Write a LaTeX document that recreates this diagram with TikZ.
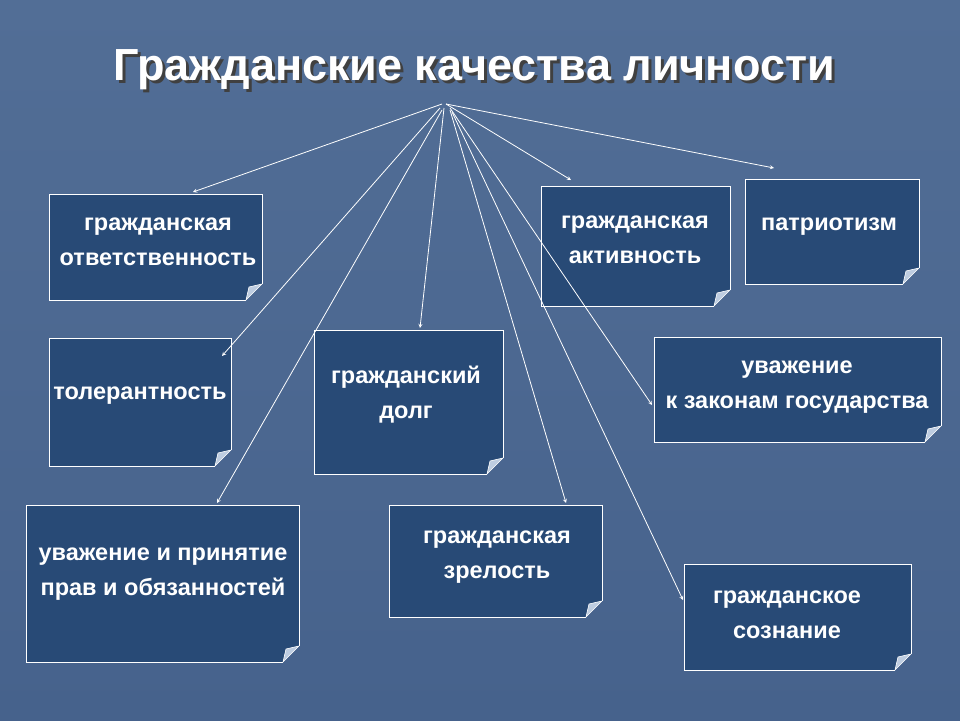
\documentclass[tikz,border=0pt]{standalone}
\usepackage{fontspec}
\setmainfont{Liberation Sans}
\definecolor{bgtop}{RGB}{82,110,150}
\definecolor{bgbot}{RGB}{70,98,140}
\definecolor{boxc}{RGB}{40,74,118}
\definecolor{foldc}{RGB}{190,205,225}
\begin{document}
\begin{tikzpicture}[x=1pt,y=-1pt,
  lbl/.style={font=\bfseries\fontsize{23.5}{35}\selectfont,text=white,align=center},
  conn/.style={white,line width=0.8pt,-stealth}]
\shade[top color=bgtop, bottom color=bgbot] (0,0) rectangle (960,720);
\useasboundingbox (0,0) rectangle (960,720);
\newcommand{\qbox}[5]{%
 \fill[boxc] (#1,#2) -- (#3,#2) -- (#3,#4-16) -- (#3-16,#4) -- (#1,#4) -- cycle;
 \draw[white,line width=0.8pt] (#3-16,#4) -- (#1,#4) -- (#1,#2) -- (#3,#2) -- (#3,#4-16);
 \fill[foldc] (#3,#4-16) -- (#3-16,#4) -- (#3-13,#4-13) -- cycle;
 \draw[white,line width=0.6pt] (#3,#4-16) -- (#3-16,#4) -- (#3-13,#4-13) -- cycle;
 \coordinate (#5) at (#1,#2);}
\node[font=\bfseries\fontsize{45}{50}\selectfont,text=black!75] at (477,73) {Гражданские качества личности};
\node[font=\bfseries\fontsize{45}{50}\selectfont,text=white] (title) at (474,70) {Гражданские качества личности};
\coordinate (src) at (442,104);
\qbox{49}{194}{262}{300}{b1}
\qbox{49}{338}{231}{466}{b2}
\qbox{26}{505}{299}{662}{b3}
\qbox{314}{330}{503}{474}{b4}
\qbox{389}{505}{602}{617}{b5}
\qbox{541}{186}{730}{306}{b6}
\qbox{745}{179}{919}{284}{b7}
\qbox{654}{337}{941}{442}{b8}
\qbox{684}{564}{911}{670}{b9}
\node[lbl] (t1) at (158,242) {гражданская\\ ответственность};
\node[lbl] (t2) at (140,396) {толерантность};
\node[lbl] (t3) at (163,574) {уважение и принятие\\ прав и обязанностей};
\node[lbl] (t4) at (406,395) {гражданский\\ долг};
\node[lbl] (t5) at (497,557) {гражданская\\ зрелость};
\node[lbl] (t6) at (635,240) {гражданская\\ активность};
\node[lbl] (t7) at (829,227) {патриотизм};
\node[lbl] (t8) at (797,387) {уважение\\ к законам государства};
\node[lbl] (t9) at (787,615) {гражданское\\ сознание};
\coordinate (e1) at (193,192); \coordinate (e2) at (222,356); \coordinate (e3) at (217,503);
\coordinate (e4) at (420,328); \coordinate (e5) at (566,503); \coordinate (e6) at (571,180);
\coordinate (e7) at (774,168); \coordinate (e8) at (652,405); \coordinate (e9) at (683,600);
\draw[conn] (src) -- (e1);
\draw[conn] ([shift={(-2,4)}]src) -- (e2);
\draw[conn] ([shift={(0,6)}]src) -- (e3);
\draw[conn] ([shift={(2,4)}]src) -- (e4);
\draw[conn] ([shift={(8,6)}]src) -- (e5);
\draw[conn] ([shift={(4,0)}]src) -- (e6);
\draw[conn] ([shift={(4,0)}]src) -- (e7);
\draw[conn] ([shift={(8,4)}]src) -- (e8);
\draw[conn] ([shift={(10,8)}]src) -- (e9);
\end{tikzpicture}
\end{document}
